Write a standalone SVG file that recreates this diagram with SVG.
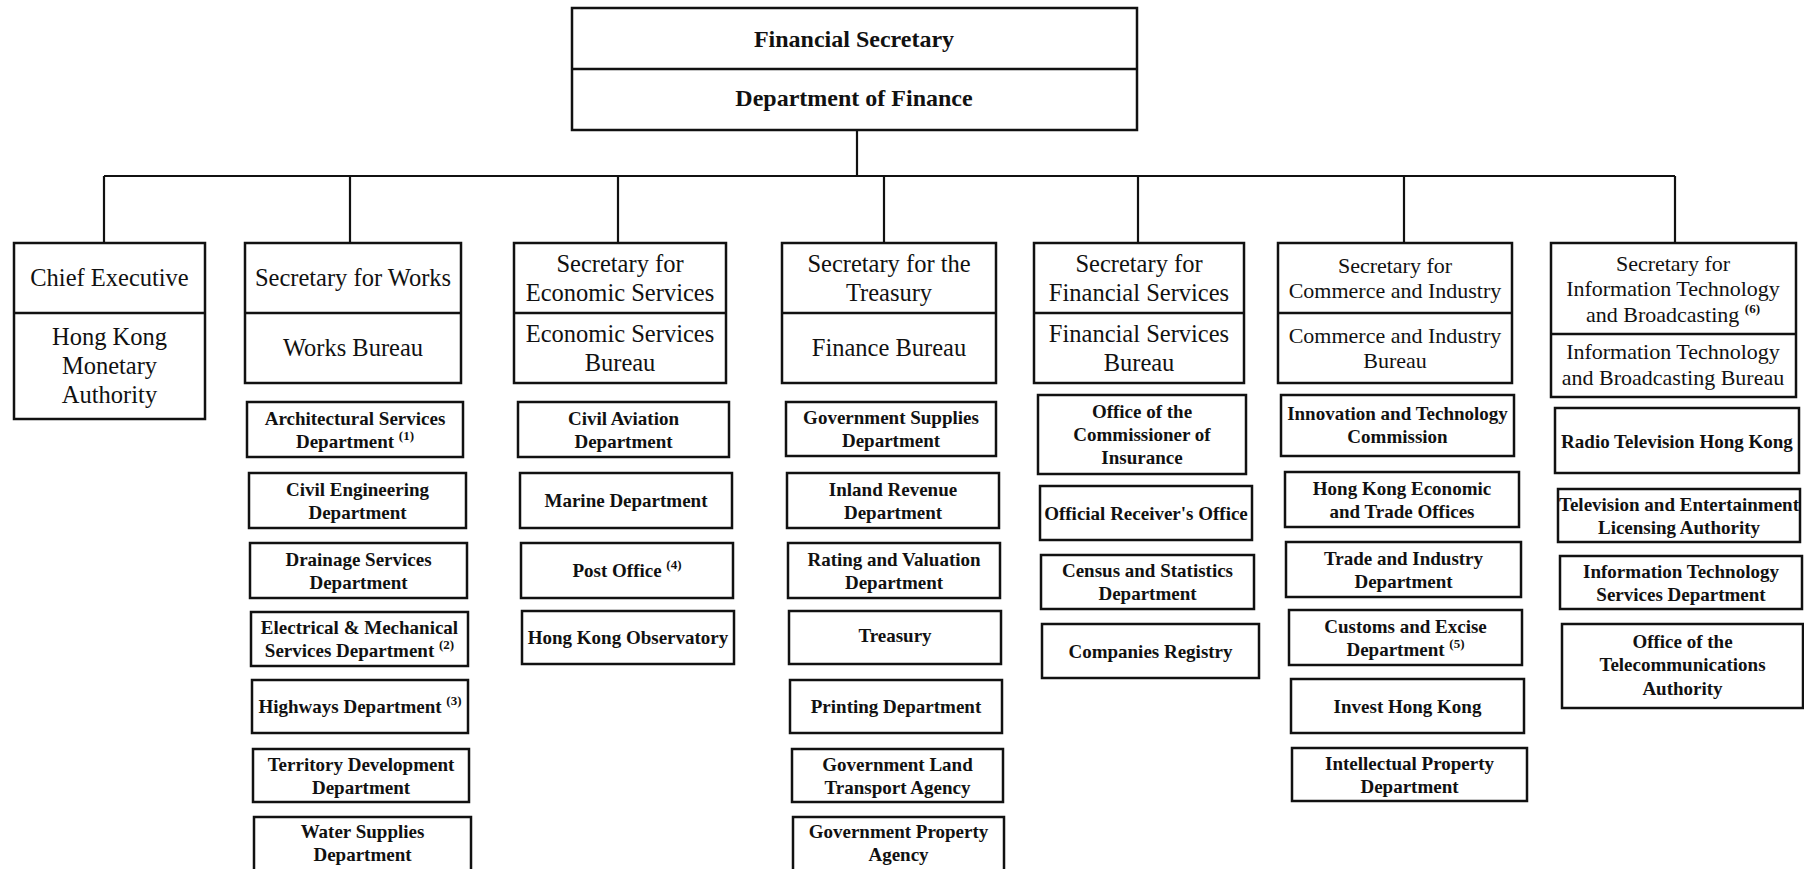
<svg xmlns="http://www.w3.org/2000/svg" width="1804" height="869" viewBox="0 0 1804 869">
<style>
.bx{fill:#fff;stroke:#111;stroke-width:2.5}
.dv{stroke:#111;stroke-width:2.5}
.cn{fill:none;stroke:#111;stroke-width:2.2}
text{font-family:"Liberation Serif","Times New Roman",serif;fill:#111;text-anchor:middle}
.t{font-size:24.5px}
.tc{font-size:22px}
.tp{font-size:24px;font-weight:bold}
.d{font-size:19px;font-weight:bold}
.sup{font-size:13px;font-weight:bold}
</style>
<rect width="1804" height="869" fill="#fff"/>
<g id="connectors">
<path class="cn" d="M857 130V176M104 176H1675M104 176V243M350 176V243M618 176V243M884 176V243M1138 176V243M1404 176V243M1675 176V243"/>
</g>
<g id="financial-secretary">
<rect class="bx" x="572" y="8" width="565" height="122"/>
<line class="dv" x1="572" y1="69" x2="1137" y2="69"/>
<text class="tp" x="854" y="47">Financial Secretary</text>
<text class="tp" x="854" y="106">Department of Finance</text>
</g>
<g id="chief-executive">
<rect class="bx" x="14" y="243" width="191" height="176"/>
<line class="dv" x1="14" y1="313" x2="205" y2="313"/>
<text class="t" x="109.5" y="286">Chief Executive</text>
<text class="t" x="109.5" y="345">Hong Kong</text>
<text class="t" x="109.5" y="374">Monetary</text>
<text class="t" x="109.5" y="403">Authority</text>
</g>
<g id="secretary-works">
<rect class="bx" x="245" y="243" width="216" height="140"/>
<line class="dv" x1="245" y1="313" x2="461" y2="313"/>
<text class="t" x="353" y="286">Secretary for Works</text>
<text class="t" x="353" y="356">Works Bureau</text>
</g>
<g id="secretary-economic">
<rect class="bx" x="514" y="243" width="212" height="140"/>
<line class="dv" x1="514" y1="313" x2="726" y2="313"/>
<text class="t" x="620" y="271.5">Secretary for</text>
<text class="t" x="620" y="300.5">Economic Services</text>
<text class="t" x="620" y="341.5">Economic Services</text>
<text class="t" x="620" y="370.5">Bureau</text>
</g>
<g id="secretary-treasury">
<rect class="bx" x="782" y="243" width="214" height="140"/>
<line class="dv" x1="782" y1="313" x2="996" y2="313"/>
<text class="t" x="889" y="271.5">Secretary for the</text>
<text class="t" x="889" y="300.5">Treasury</text>
<text class="t" x="889" y="356">Finance Bureau</text>
</g>
<g id="secretary-financial">
<rect class="bx" x="1034" y="243" width="210" height="140"/>
<line class="dv" x1="1034" y1="313" x2="1244" y2="313"/>
<text class="t" x="1139" y="271.5">Secretary for</text>
<text class="t" x="1139" y="300.5">Financial Services</text>
<text class="t" x="1139" y="341.5">Financial Services</text>
<text class="t" x="1139" y="370.5">Bureau</text>
</g>
<g id="secretary-commerce">
<rect class="bx" x="1278" y="243" width="234" height="140"/>
<line class="dv" x1="1278" y1="313" x2="1512" y2="313"/>
<text class="tc" x="1395" y="272.5">Secretary for</text>
<text class="tc" x="1395" y="298">Commerce and Industry</text>
<text class="tc" x="1395" y="342.5">Commerce and Industry</text>
<text class="tc" x="1395" y="368">Bureau</text>
</g>
<g id="secretary-it">
<rect class="bx" x="1551" y="243" width="245" height="154"/>
<line class="dv" x1="1551" y1="334" x2="1796" y2="334"/>
<text class="tc" x="1673" y="270.5">Secretary for</text>
<text class="tc" x="1673" y="296">Information Technology</text>
<text class="tc" x="1673" y="321.5">and Broadcasting <tspan class="sup" dy="-9">(6)</tspan></text>
<text class="tc" x="1673" y="359">Information Technology</text>
<text class="tc" x="1673" y="384.5">and Broadcasting Bureau</text>
</g>
<!-- Works departments -->
<g id="archsd"><rect class="bx" x="247" y="402" width="216" height="55"/>
<text class="d" x="355" y="424.5">Architectural Services</text>
<text class="d" x="355" y="447.5">Department <tspan class="sup" dy="-8">(1)</tspan></text></g>
<g id="ced"><rect class="bx" x="249" y="473" width="217" height="55"/>
<text class="d" x="357.5" y="495.5">Civil Engineering</text>
<text class="d" x="357.5" y="518.5">Department</text></g>
<g id="dsd"><rect class="bx" x="250" y="543" width="217" height="55"/>
<text class="d" x="358.5" y="565.5">Drainage Services</text>
<text class="d" x="358.5" y="588.5">Department</text></g>
<g id="emsd"><rect class="bx" x="251" y="612" width="217" height="54"/>
<text class="d" x="359.5" y="634">Electrical &amp; Mechanical</text>
<text class="d" x="359.5" y="657">Services Department <tspan class="sup" dy="-8">(2)</tspan></text></g>
<g id="hyd"><rect class="bx" x="252" y="680" width="216" height="53"/>
<text class="d" x="360" y="713">Highways Department <tspan class="sup" dy="-8">(3)</tspan></text></g>
<g id="tdd"><rect class="bx" x="253" y="749" width="216" height="53"/>
<text class="d" x="361" y="770.5">Territory Development</text>
<text class="d" x="361" y="793.5">Department</text></g>
<g id="wsd"><rect class="bx" x="254" y="817" width="217" height="62"/>
<text class="d" x="362.5" y="837.5">Water Supplies</text>
<text class="d" x="362.5" y="861">Department</text></g>
<!-- Economic Services departments -->
<g id="cad"><rect class="bx" x="518" y="402" width="211" height="55"/>
<text class="d" x="623.5" y="424.5">Civil Aviation</text>
<text class="d" x="623.5" y="447.5">Department</text></g>
<g id="mard"><rect class="bx" x="520" y="473" width="212" height="55"/>
<text class="d" x="626" y="507">Marine Department</text></g>
<g id="post"><rect class="bx" x="521" y="543" width="212" height="55"/>
<text class="d" x="627" y="577">Post Office <tspan class="sup" dy="-8">(4)</tspan></text></g>
<g id="hko"><rect class="bx" x="522" y="611" width="212" height="53"/>
<text class="d" x="628" y="644">Hong Kong Observatory</text></g>
<!-- Treasury departments -->
<g id="gsd"><rect class="bx" x="786" y="402" width="210" height="54"/>
<text class="d" x="891" y="424">Government Supplies</text>
<text class="d" x="891" y="447">Department</text></g>
<g id="ird"><rect class="bx" x="787" y="473" width="212" height="55"/>
<text class="d" x="893" y="495.5">Inland Revenue</text>
<text class="d" x="893" y="518.5">Department</text></g>
<g id="rvd"><rect class="bx" x="788" y="543" width="212" height="55"/>
<text class="d" x="894" y="565.5">Rating and Valuation</text>
<text class="d" x="894" y="588.5">Department</text></g>
<g id="treasury"><rect class="bx" x="789" y="611" width="212" height="53"/>
<text class="d" x="895" y="642">Treasury</text></g>
<g id="printing"><rect class="bx" x="790" y="680" width="212" height="53"/>
<text class="d" x="896" y="713">Printing Department</text></g>
<g id="glta"><rect class="bx" x="792" y="749" width="211" height="53"/>
<text class="d" x="897.5" y="770.5">Government Land</text>
<text class="d" x="897.5" y="793.5">Transport Agency</text></g>
<g id="gpa"><rect class="bx" x="793" y="817" width="211" height="62"/>
<text class="d" x="898.5" y="837.5">Government Property</text>
<text class="d" x="898.5" y="861">Agency</text></g>
<!-- Financial Services departments -->
<g id="oci"><rect class="bx" x="1038" y="395" width="208" height="79"/>
<text class="d" x="1142" y="417.5">Office of the</text>
<text class="d" x="1142" y="440.5">Commissioner of</text>
<text class="d" x="1142" y="464">Insurance</text></g>
<g id="oro"><rect class="bx" x="1040" y="486" width="212" height="54"/>
<text class="d" x="1146" y="519.5">Official Receiver's Office</text></g>
<g id="csd"><rect class="bx" x="1041" y="555" width="213" height="54"/>
<text class="d" x="1147.5" y="577">Census and Statistics</text>
<text class="d" x="1147.5" y="600">Department</text></g>
<g id="cr"><rect class="bx" x="1042" y="624" width="217" height="54"/>
<text class="d" x="1150.5" y="657.5">Companies Registry</text></g>
<!-- Commerce and Industry departments -->
<g id="itc"><rect class="bx" x="1281" y="395" width="233" height="61"/>
<text class="d" x="1397.5" y="419.5">Innovation and Technology</text>
<text class="d" x="1397.5" y="443">Commission</text></g>
<g id="heto"><rect class="bx" x="1285" y="472" width="234" height="55"/>
<text class="d" x="1402" y="494.5">Hong Kong Economic</text>
<text class="d" x="1402" y="517.5">and Trade Offices</text></g>
<g id="tid"><rect class="bx" x="1286" y="542" width="235" height="55"/>
<text class="d" x="1403.5" y="564.5">Trade and Industry</text>
<text class="d" x="1403.5" y="587.5">Department</text></g>
<g id="c-and-ed"><rect class="bx" x="1289" y="610" width="233" height="55"/>
<text class="d" x="1405.5" y="632.5">Customs and Excise</text>
<text class="d" x="1405.5" y="655.5">Department <tspan class="sup" dy="-8">(5)</tspan></text></g>
<g id="investhk"><rect class="bx" x="1291" y="679" width="233" height="54"/>
<text class="d" x="1407.5" y="712.5">Invest Hong Kong</text></g>
<g id="ipd"><rect class="bx" x="1292" y="748" width="235" height="53"/>
<text class="d" x="1409.5" y="769.5">Intellectual Property</text>
<text class="d" x="1409.5" y="792.5">Department</text></g>
<!-- IT and Broadcasting departments -->
<g id="rthk"><rect class="bx" x="1555" y="408" width="244" height="65"/>
<text class="d" x="1677" y="447.5">Radio Television Hong Kong</text></g>
<g id="tela"><rect class="bx" x="1558" y="489" width="242" height="53"/>
<text class="d" x="1679" y="510.5">Television and Entertainment</text>
<text class="d" x="1679" y="533.5">Licensing Authority</text></g>
<g id="itsd"><rect class="bx" x="1560" y="556" width="242" height="53"/>
<text class="d" x="1681" y="577.5">Information Technology</text>
<text class="d" x="1681" y="600.5">Services Department</text></g>
<g id="ofta"><rect class="bx" x="1562" y="624" width="241" height="84"/>
<text class="d" x="1682.5" y="647.5">Office of the</text>
<text class="d" x="1682.5" y="671">Telecommunications</text>
<text class="d" x="1682.5" y="694.5">Authority</text></g>
</svg>
